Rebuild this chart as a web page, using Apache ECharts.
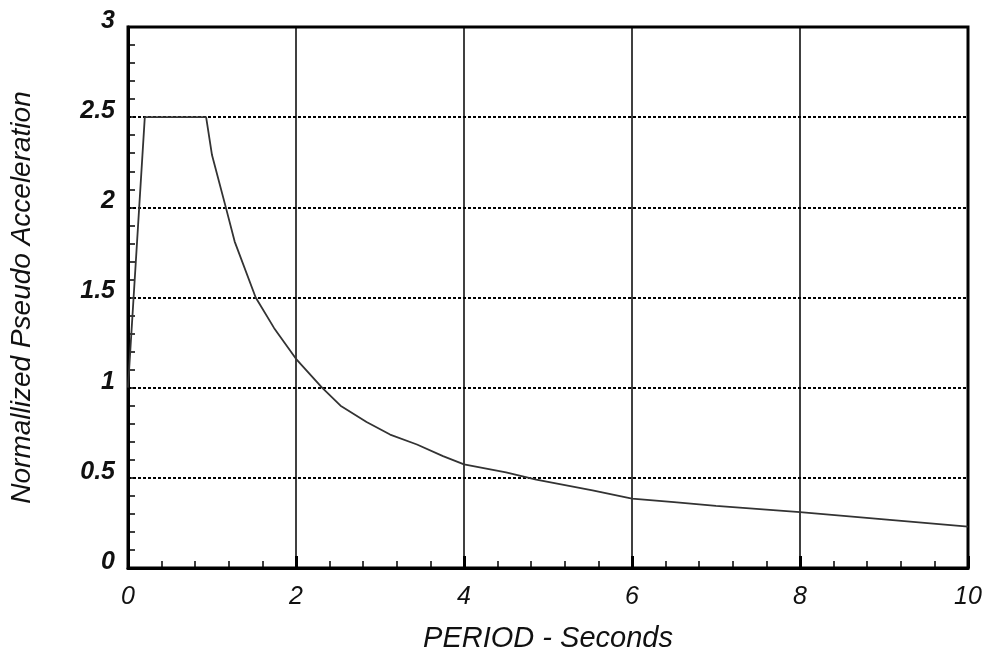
<!DOCTYPE html>
<html>
<head>
<meta charset="utf-8">
<script src="https://cdn.jsdelivr.net/npm/echarts@6/dist/echarts.min.js"></script>
<style>
  html, body { margin: 0; padding: 0; background: #fff; }
  #main { width: 987px; height: 658px; }
</style>
</head>
<body>
<div id="main"></div>
<script>
// period (s) and normalized pseudo acceleration
const periods = [0, 0.2, 0.93, 1.0, 1.17, 1.27, 1.52, 1.74, 2.0, 2.31, 2.53, 2.84, 3.12, 3.44, 3.75, 4.0, 4.5, 4.86, 5.53, 6.0, 6.5, 7.0, 8.0, 9.0, 10.0];
const accel = [1.0, 2.5, 2.5, 2.29, 1.99, 1.81, 1.5, 1.33, 1.16, 1.0, 0.9, 0.81, 0.74, 0.685, 0.62, 0.575, 0.53, 0.49, 0.43, 0.385, 0.365, 0.345, 0.31, 0.27, 0.23];

const xTitle = 'PERIOD - Seconds';
const yTitle = 'Normallized Pseudo Acceleration';

const font = '"Liberation Sans", Arial, sans-serif';

var myChart = echarts.init(document.getElementById('main'));

const option = {
  backgroundColor: '#fff',
  animation: false,
  grid: {
    left: 123,
    top: 27,
    right: 19,
    bottom: 85,
    show: true,
    borderColor: '#000',
    borderWidth: 3
  },
  xAxis: {
    type: 'value',
    min: 0,
    max: 10,
    interval: 2,
    name: xTitle,
    nameLocation: 'middle',
    nameGap: 56,
    nameTextStyle: { fontFamily: font, fontStyle: 'italic', fontSize: 29, color: '#111' },
    axisLine: { show: true, lineStyle: { color: '#000', width: 3 } },
    axisTick: { show: true, inside: true, length: 12, lineStyle: { color: '#000', width: 3 } },
    minorTick: { show: true, splitNumber: 5, length: 7, lineStyle: { color: '#000', width: 1.5 } },
    axisLabel: { fontFamily: font, fontStyle: 'italic', fontSize: 25, color: '#111', margin: 17 },
    splitLine: { show: true, lineStyle: { color: '#000', width: 1.5, type: 'solid' } }
  },
  yAxis: {
    type: 'value',
    min: 0,
    max: 3,
    interval: 0.5,
    name: yTitle,
    nameLocation: 'middle',
    nameGap: 92,
    nameTextStyle: { fontFamily: font, fontStyle: 'italic', fontSize: 28, color: '#111' },
    axisLine: { show: true, lineStyle: { color: '#000', width: 3 } },
    axisTick: { show: true, inside: true, length: 8, lineStyle: { color: '#000', width: 1.5 } },
    minorTick: { show: true, splitNumber: 5, length: 7, lineStyle: { color: '#000', width: 1.5 } },
    axisLabel: {
      fontFamily: font, fontStyle: 'italic', fontWeight: 'bold', fontSize: 25, color: '#111',
      margin: 13, verticalAlign: 'bottom', lineHeight: 12
    },
    splitLine: { show: true, lineStyle: { color: '#000', width: 2, type: [3, 2] } }
  },
  series: [
    {
      type: 'line',
      data: periods.map((t, i) => [t, accel[i]]),
      showSymbol: false,
      smooth: false,
      lineStyle: { color: '#333', width: 1.8 }
    }
  ]
};

myChart.setOption(option);
</script>
</body>
</html>
